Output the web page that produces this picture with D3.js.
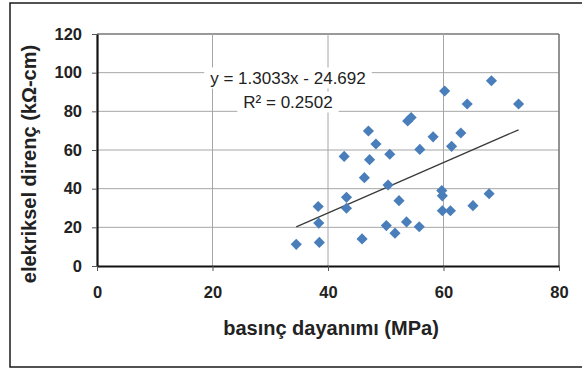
<!DOCTYPE html>
<html>
<head>
<meta charset="utf-8">
<script src="https://cdn.jsdelivr.net/npm/d3@7"></script>
<style>
  body { margin: 0; background: #fff; }
  svg { display: block; font-family: Arial, "Liberation Sans", sans-serif; }
</style>
</head>
<body>
<div id="chart"></div>
<script>
// basınç dayanımı (MPa)
const strength = [34.5, 38.3, 38.4, 38.5, 42.8, 43.2, 43.2, 45.9, 46.3, 47.0, 47.2, 48.3,
  50.4, 50.7, 50.1, 51.6, 52.3, 53.6, 53.8, 54.4, 55.8, 55.9, 58.2, 59.7, 59.8, 59.8,
  60.2, 61.2, 61.4, 63.0, 64.1, 65.1, 67.9, 68.3, 73.0];
// elekriksel direnç (kΩ-cm)
const resistivity = [11.2, 30.8, 22.2, 12.2, 56.7, 35.5, 29.9, 14.0, 45.7, 69.8, 55.0, 63.1,
  41.9, 57.8, 20.9, 17.0, 33.8, 22.8, 75.0, 76.8, 20.3, 60.3, 66.8, 39.0, 36.3, 28.6,
  90.5, 28.6, 61.9, 68.8, 83.8, 31.2, 37.4, 95.8, 83.8];

const xTicks = [0, 20, 40, 60, 80];
const yTicks = [0, 20, 40, 60, 80, 100, 120];
const slope = 1.3033;
const intercept = -24.692;
const eqLabel = 'y = 1.3033x - 24.692';
const r2Label = 'R² = 0.2502';

const width = 582, height = 369;
const margin = { left: 97, right: 23, top: 34, bottom: 103 };

const svg = d3.select('#chart').append('svg')
  .attr('width', width)
  .attr('height', height);

// outer frame (right edge runs off the picture)
svg.append('rect')
  .attr('x', 10).attr('y', 3)
  .attr('width', 600).attr('height', 364)
  .attr('fill', 'none')
  .attr('stroke', '#1a1a1a')
  .attr('stroke-width', 1.5);

const x = d3.scaleLinear().domain([0, 80]).range([margin.left, width - margin.right]);
const y = d3.scaleLinear().domain([0, 120]).range([height - margin.bottom, margin.top]);

// gridlines
svg.append('g')
  .selectAll('line.h')
  .data(yTicks.slice(1))
  .enter().append('line')
  .attr('x1', x(0)).attr('x2', x(80))
  .attr('y1', (d) => y(d)).attr('y2', (d) => y(d))
  .attr('stroke', (d) => (d === 120 ? '#777' : '#a6a6a6'))
  .attr('stroke-width', (d) => (d === 120 ? 1.6 : 1));

svg.append('g')
  .selectAll('line.v')
  .data(xTicks.slice(1))
  .enter().append('line')
  .attr('x1', (d) => x(d)).attr('x2', (d) => x(d))
  .attr('y1', y(0)).attr('y2', y(120))
  .attr('stroke', (d) => (d === 80 ? '#777' : '#a6a6a6'))
  .attr('stroke-width', (d) => (d === 80 ? 1.6 : 1));

// axes
const yAxis = svg.append('g')
  .attr('transform', `translate(${x(0)},0)`)
  .call(d3.axisLeft(y).tickValues(yTicks).tickSize(5).tickPadding(10).tickSizeOuter(0));
const xAxis = svg.append('g')
  .attr('transform', `translate(0,${y(0)})`)
  .call(d3.axisBottom(x).tickValues(xTicks).tickSize(5).tickPadding(15).tickSizeOuter(0));

[xAxis, yAxis].forEach((ax) => {
  ax.select('.domain').attr('stroke', '#111').attr('stroke-width', 2.2);
  ax.selectAll('.tick line').attr('stroke', '#555');
  ax.selectAll('.tick text')
    .attr('fill', '#222')
    .style('font-size', '16.5px')
    .style('font-weight', 'bold');
});

// trendline over the data range
const xMin = d3.min(strength), xMax = d3.max(strength);
svg.append('line')
  .attr('x1', x(xMin)).attr('y1', y(slope * xMin + intercept))
  .attr('x2', x(xMax)).attr('y2', y(slope * xMax + intercept))
  .attr('stroke', '#3a3a3a')
  .attr('stroke-width', 1.3);

// points
const diamond = d3.symbol().type(d3.symbolSquare).size(62);
svg.append('g')
  .selectAll('path')
  .data(strength.map((s, i) => [s, resistivity[i]]))
  .enter().append('path')
  .attr('d', diamond)
  .attr('transform', (d) => `translate(${x(d[0])},${y(d[1])}) rotate(45)`)
  .attr('fill', '#4a7ebb');

// trendline label, each line on its own white box
const labels = [
  { text: eqLabel, cx: 288, cy: 78 },
  { text: r2Label, cx: 288, cy: 102 },
];
labels.forEach((l) => {
  const g = svg.append('g');
  const t = g.append('text')
    .attr('x', l.cx).attr('y', l.cy)
    .attr('text-anchor', 'middle')
    .attr('dominant-baseline', 'central')
    .attr('fill', '#222')
    .style('font-size', '17px')
    .text(l.text);
  const bb = t.node().getBBox();
  g.insert('rect', 'text')
    .attr('x', bb.x - 6).attr('y', bb.y - 1)
    .attr('width', bb.width + 12).attr('height', bb.height + 2)
    .attr('fill', '#fff');
});

// axis titles
svg.append('text')
  .attr('x', 331).attr('y', 328)
  .attr('text-anchor', 'middle')
  .attr('dominant-baseline', 'central')
  .attr('fill', '#222')
  .style('font-size', '20px')
  .style('font-weight', 'bold')
  .text('basınç dayanımı (MPa)');

svg.append('text')
  .attr('transform', 'translate(29,164) rotate(-90)')
  .attr('text-anchor', 'middle')
  .attr('dominant-baseline', 'central')
  .attr('fill', '#222')
  .style('font-size', '20px')
  .style('font-weight', 'bold')
  .text('elekriksel direnç (kΩ-cm)');
</script>
</body>
</html>
